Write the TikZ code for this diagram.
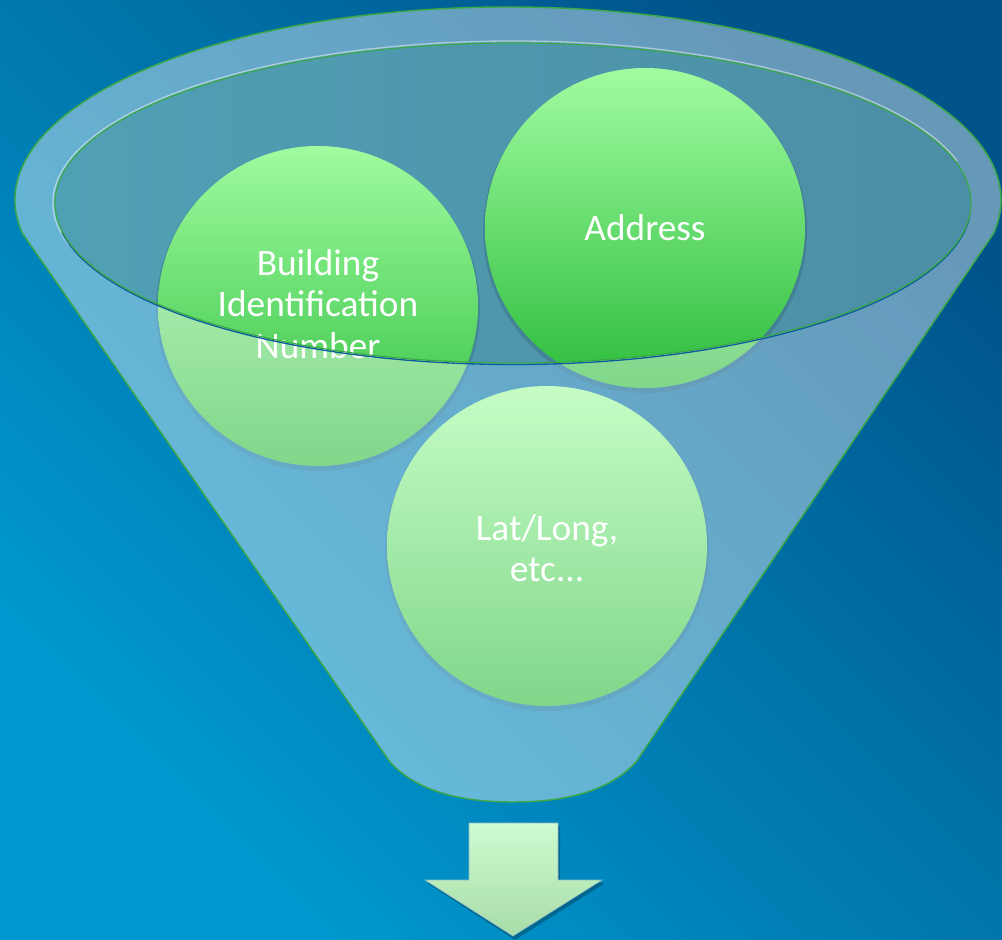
\documentclass[tikz,border=0pt]{standalone}
\usepackage{fontspec}
\setmainfont{Carlito}
\definecolor{bgtop}{HTML}{00548A}
\definecolor{bgmid}{HTML}{0474AA}
\definecolor{bgbot}{HTML}{009AD0}
\definecolor{tealA}{HTML}{50A0B4}
\definecolor{tealB}{HTML}{4C8EA6}
\definecolor{gtop}{HTML}{A0FCA0}
\definecolor{gbot}{HTML}{2CBC3C}
\definecolor{edge}{HTML}{3AA848}
\definecolor{arrtop}{HTML}{CCFCD0}
\definecolor{arrbot}{HTML}{A8DCA8}
\definecolor{darkline}{HTML}{0A5C9C}
\begin{document}
\begin{tikzpicture}[x=0.75pt,y=-0.75pt,
  ball/.style={top color=gtop, bottom color=gbot, draw=none},
  lbl/.style={text=white, align=center, font=\fontsize{28}{31}\selectfont},
  rim/.style={draw=edge, line width=1.1pt}]
% background
\path[shading=axis, top color=bgtop, middle color=bgmid, bottom color=bgbot, shading angle=-45] (0,0) rectangle (1002,939);
\useasboundingbox (0,0) rectangle (1002,939);
% inner opening
\path[left color=tealA, right color=tealB] (513,203) ellipse[x radius=458, y radius=160];
% circle shadows
\foreach \cx/\cy in {318/306, 645/228, 547/546}
  \fill[black, opacity=0.12] (\cx,\cy+3) circle[radius=162];
% circles
\path[ball] (318,306) circle[radius=160];
\path[ball] (645,228) circle[radius=160];
\path[ball] (547,546) circle[radius=160];
% funnel body translucent overlay
\path[fill=white, fill opacity=0.4, even odd rule]
  (22.5,233.5) arc[start angle=170, end angle=370, x radius=493, y radius=193]
  -- (636,762) .. controls (606,795) and (556,802) .. (513,802)
  .. controls (470,802) and (420,795) .. (390,762)
  -- cycle
  (513,203) ellipse[x radius=458, y radius=160];
\draw[rim]
  (22.5,233.5) arc[start angle=170, end angle=370, x radius=493, y radius=193]
  -- (636,762) .. controls (606,795) and (556,802) .. (513,802)
  .. controls (470,802) and (420,795) .. (390,762)
  -- cycle;
% labels
\node[lbl] (bin) at (318,304) {Building\\Identification\\Number};
\node[lbl] (addr) at (645,228) {Address};
\node[lbl] (lat) at (547,548) {Lat/Long,\\etc...};
% opening edges
\draw[white, opacity=0.45, line width=1pt] (513,203) ++(165:460 and 162) arc[start angle=165, end angle=345, x radius=460, y radius=162];
\draw[darkline, line width=1pt] (513,204.5) ++(5:458 and 160) arc[start angle=5, end angle=170, x radius=458, y radius=160];
\draw[edge, line width=0.9pt] (513,203) ellipse[x radius=458, y radius=160];
% arrow
\fill[black, opacity=0.25] (471,826) -- (560,826) -- (560,883) -- (605,883) -- (515,940) -- (427,883) -- (471,883) -- cycle;
\path[top color=arrtop, bottom color=arrbot, draw=tealB!60, line width=0.4pt]
  (469,823) -- (558,823) -- (558,880) -- (602,880) -- (513,936) -- (425,880) -- (469,880) -- cycle;
\end{tikzpicture}
\end{document}
